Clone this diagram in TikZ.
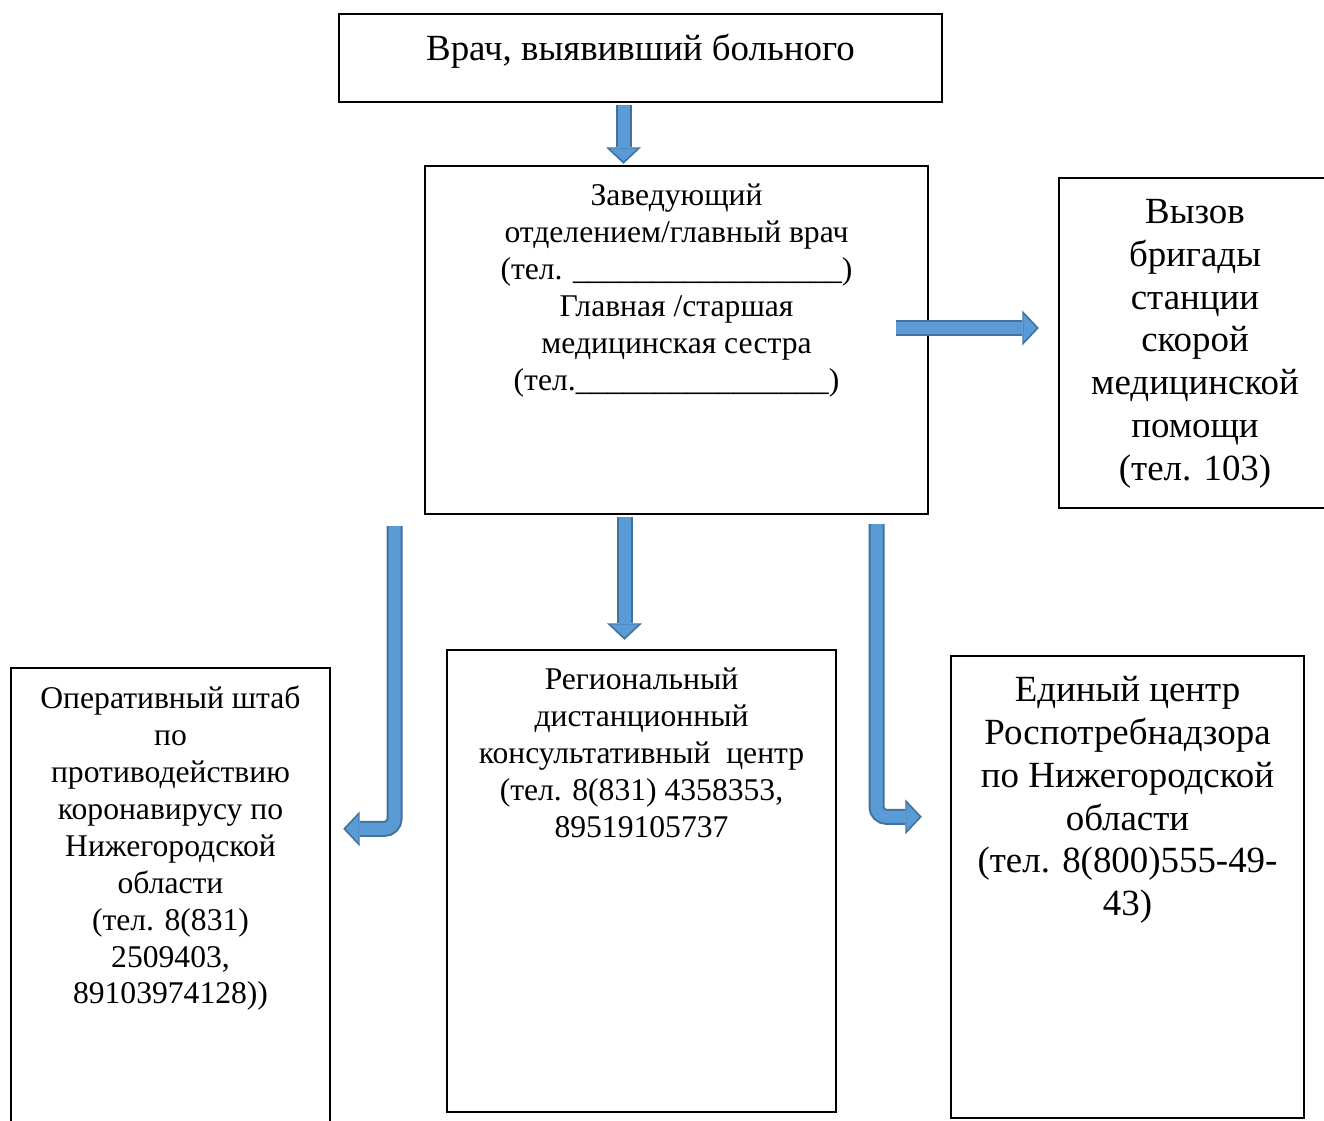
\documentclass[tikz,border=0pt]{standalone}
\usepackage{fontspec}
\setmainfont{Liberation Serif}
\usepackage{tikz}
\usetikzlibrary{arrows.meta,positioning,calc}
\definecolor{arrowfill}{RGB}{91,155,213}
\definecolor{arrowline}{RGB}{65,113,156}

\begin{document}
\begin{tikzpicture}[
x=0.02cm, y=-0.02cm,
box/.style={rectangle, draw=black, line width=1.4pt, inner sep=0pt},
txt/.style={align=center, inner sep=0pt, font=\fontsize{18}{21}\selectfont},
bigtxt/.style={align=center, inner sep=0pt, font=\fontsize{21}{24.4}\selectfont},
barrow/.style={line width=0.24cm, draw=arrowfill, shorten >=0.05cm,
  -{Triangle[width=0.56cm 0 0, length=0.26cm 0 0, line width=0pt 0 0]},
  preaction={draw=arrowline, line width=0.32cm, shorten >=0pt,
  -{Triangle[width=0.7cm 0 0, length=0.33cm 0 0, line width=0pt 0 0]}}}
]

\useasboundingbox (0,0) rectangle (1324,1120);

% Doctor (top)

\node[box, minimum width=12.06cm, minimum height=1.76cm] (doctor) at (640.5,58) {};

\node[bigtxt, below=0.42cm of doctor.north] (doctortxt) {Врач, выявивший больного};

% Head of department

\node[box, minimum width=10.06cm, minimum height=6.96cm] (main) at (676.5,340) {};

\node[txt, below=0.38cm of main.north] (maintxt) {Заведующий\\ отделением/главный врач\\ (тел. \_\_\_\_\_\_\_\_\_\_\_\_\_\_\_\_\_)\\ Главная /старшая\\ медицинская сестра\\ (тел.\_\_\_\_\_\_\_\_\_\_\_\_\_\_\_\_)};

% Ambulance

\node[box, minimum width=5.44cm, minimum height=6.6cm] (ambulance) at (1195,343) {};

\node[bigtxt, below=0.44cm of ambulance.north] (ambulancetxt) {Вызов\\ бригады\\ станции\\ скорой\\ медицинской\\ помощи\\ (тел. 103)};

% Operational headquarters

\node[box, minimum width=6.38cm, minimum height=9.44cm] (hq) at (170.5,904) {};

\node[txt, below=0.38cm of hq.north] (hqtxt) {Оперативный штаб\\ по\\ противодействию\\ коронавирусу по\\ Нижегородской\\ области\\ (тел. 8(831)\\ 2509403,\\ 89103974128))};

% Regional centre

\node[box, minimum width=7.78cm, minimum height=9.24cm] (regional) at (641.5,881) {};

\node[txt, below=0.38cm of regional.north] (regionaltxt) {Региональный\\ дистанционный\\ консультативный\ \ центр\\ (тел. 8(831) 4358353,\\ 89519105737};

% Rospotrebnadzor

\node[box, minimum width=7.06cm, minimum height=9.24cm] (rospotreb) at (1127.5,887) {};

\node[bigtxt, below=0.42cm of rospotreb.north] (rospotrebtxt) {Единый центр\\ Роспотребнадзора\\ по Нижегородской\\ области\\ (тел. 8(800)555-49-\\ 43)};

% Arrows

\draw[barrow] ($(doctor.south)+(-17,2)$) -- ($(main.north)+(-53,-1)$);
\draw[barrow] ($(main.east)+(-33,-12)$) -- ($(ambulance.west)+(-19,-15)$);
\draw[barrow] ($(main.south)+(-52,2)$) -- ($(regional.north)+(-17,-9)$);
\draw[barrow, rounded corners=0.2cm] ($(main.south)+(-282,11)$) |- ($(hq.north east)+(12,162)$);
\draw[barrow, rounded corners=0.2cm] ($(main.south)+(200,9)$) |- ($(rospotreb.north west)+(-28,162)$);

\end{tikzpicture}
\end{document}
